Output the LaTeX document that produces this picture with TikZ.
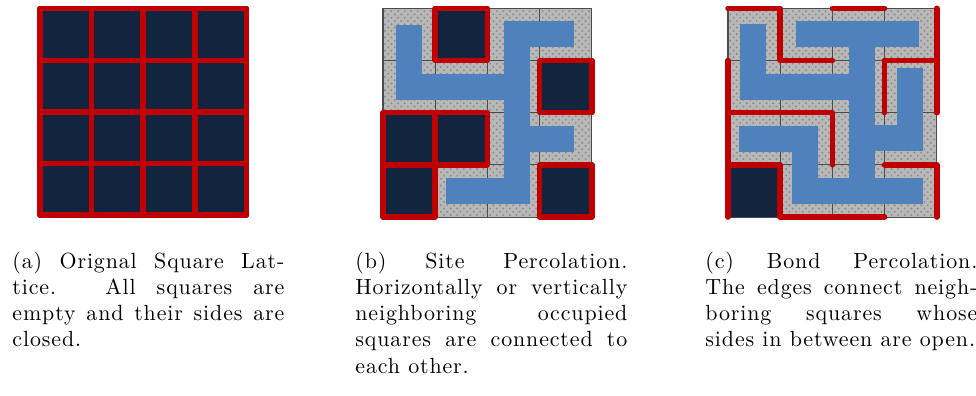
\documentclass[tikz,border=0pt]{standalone}
\usepackage{fontspec}
\setmainfont{Latin Modern Roman}[LetterSpace=4]
\usepackage{tikz}
\usetikzlibrary{patterns}
\definecolor{cellnavy}{RGB}{19,36,62}
\definecolor{wallred}{RGB}{192,0,0}
\definecolor{pathblue}{RGB}{79,129,189}

\begin{document}
\begin{tikzpicture}[x=0.456pt, y=-0.456pt,
  wall/.style={draw=wallred, line width=2.5pt, line cap=round, line join=round},
  floor/.style={fill=black!28, postaction={pattern=crosshatch dots, pattern color=black!45}},
  seam/.style={draw=black!70, line width=0.5pt},
  pathway/.style={draw=pathblue, line width=11.9pt, line cap=rect, line join=miter},
  subcap/.style={text width=124pt, align=justify, anchor=base west, inner sep=0pt}]
  \useasboundingbox (0,0) rectangle (976,396);
  % (a) closed lattice
  \begin{scope}[shift={(40,8.7)}, scale=51.6]
    \fill[cellnavy] (0,0) rectangle (4,4);
    \foreach \k in {0,...,4} {
      \draw[wall] (\k,0) -- (\k,4);
      \draw[wall] (0,\k) -- (4,\k);
    }
  \end{scope}
  % (b) site percolation
  \begin{scope}[shift={(383,8.3)}, scale=52.2]
    \path[floor] (0,0) rectangle (4,4);
    \foreach \k in {0,...,4} {
      \draw[seam] (\k,0) -- (\k,4);
      \draw[seam] (0,\k) -- (4,\k);
    }
    \draw[pathway] (0.5,0.57) -- (0.5,1.5) -- (2.56,1.5);
    \draw[pathway] (2.56,0.5) -- (2.56,3.5);
    \draw[pathway] (2.56,0.5) -- (3.41,0.5);
    \draw[pathway] (2.56,2.5) -- (3.41,2.5);
    \draw[pathway] (1.46,3.5) -- (2.56,3.5);
    % occupied squares
    \foreach \i/\j in {1/0,3/1,0/2,1/2,0/3,3/3}
      \fill[cellnavy] (\i,\j) rectangle ++(1,1);
    \foreach \i/\j in {1/0,3/1,0/2,1/2,0/3,3/3}
      \draw[wall] (\i,\j) rectangle ++(1,1);
  \end{scope}
  % (c) bond percolation
  \begin{scope}[shift={(728,8.3)}, scale=52.2]
    \path[floor] (0,0) rectangle (4,4);
    \foreach \k in {0,...,4} {
      \draw[seam] (\k,0) -- (\k,4);
      \draw[seam] (0,\k) -- (4,\k);
    }
    \draw[pathway] (0.48,0.55) -- (0.48,1.5) -- (2.56,1.5);
    \draw[pathway] (1.55,0.5) -- (3.41,0.5);
    \draw[pathway] (2.56,0.5) -- (2.56,3.5);
    \draw[pathway] (3.49,1.4) -- (3.49,2.49) -- (2.56,2.49);
    \draw[pathway] (0.47,2.5) -- (1.47,2.5) -- (1.47,3.5) -- (3.49,3.5);
    \fill[cellnavy] (0,3) rectangle (1,4);
    % closed sides
    \draw[wall] (0,0) -- (1,0) -- (1,1) -- (2,1);
    \draw[wall] (2,0) -- (3,0);
    \draw[wall] (4,0) -- (4,2);
    \draw[wall] (3,1) -- (4,1);
    \draw[wall] (3,1) -- (3,2);
    \draw[wall] (0,1) -- (0,4);
    \draw[wall] (0,2) -- (2,2) -- (2,3);
    \draw[wall] (0,3) -- (1,3) -- (1,4) -- (3,4);
    \draw[wall] (3,3) -- (4,3) -- (4,4);
  \end{scope}
  % captions
  \node[subcap] (capa) at (12,268) {(a) Orignal Square Lat-\linebreak tice. All squares are\linebreak empty and their sides are\linebreak closed.};
  \node[subcap] (capb) at (355,268) {(b) Site Percolation.\linebreak Horizontally or vertically\linebreak neighboring occupied\linebreak squares are connected to\linebreak each other.};
  \node[subcap] (capc) at (705,268) {(c) Bond Percolation.\linebreak The edges connect neigh-\linebreak boring squares whose\linebreak sides in between are open.};
\end{tikzpicture}
\end{document}
